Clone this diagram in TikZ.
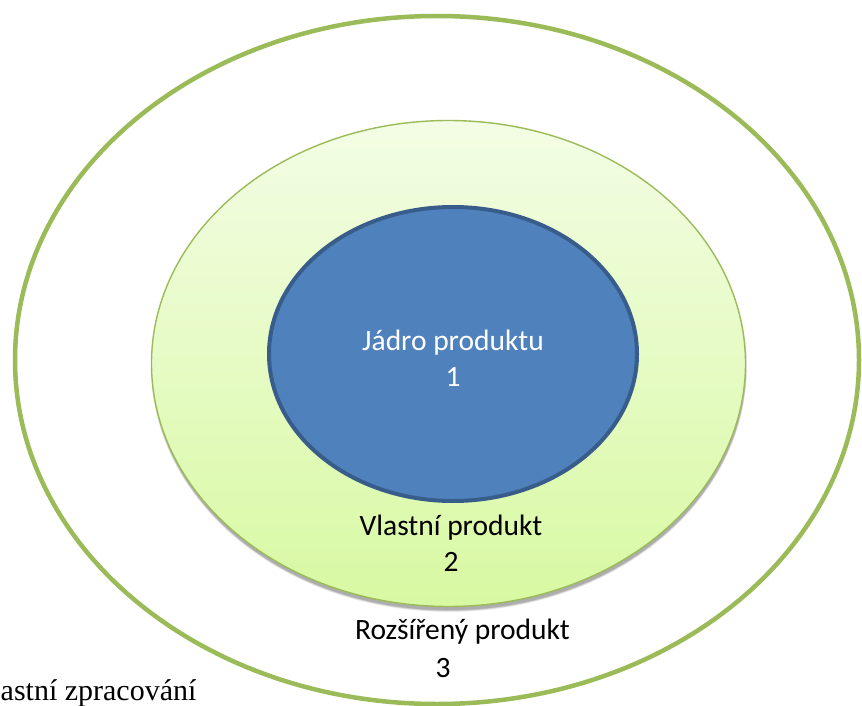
\documentclass[tikz,border=0pt]{standalone}
\usepackage{fontspec}
\setmainfont{Carlito}
\newfontfamily\serifface{Liberation Serif}
\usetikzlibrary{shapes.geometric}
\definecolor{ringgreen}{HTML}{9BBB59}
\definecolor{midtop}{RGB}{243,253,229}
\definecolor{midbot}{RGB}{216,249,162}
\definecolor{coreblue}{HTML}{4F81BD}
\definecolor{coreedge}{HTML}{385D8A}
\tikzset{
  ring/.style={ellipse, inner sep=0pt, outer sep=0pt},
  lbl/.style={font=\fontsize{29.5}{36}\selectfont, align=center, inner sep=0pt},
}
\begin{document}
\begin{tikzpicture}[x=1pt,y=-1pt]
\useasboundingbox (0,0) rectangle (862,706);
\clip (0,0) rectangle (862,706);
\fill[white] (0,0) rectangle (862,706);
% outer ring
\node[ring, draw=ringgreen, line width=4.5pt, minimum width=844pt, minimum height=688pt] (outer) at (437,360) {};
% shadow of middle ellipse
\foreach \s/\o in {5/0.06,4/0.08,3/0.10,2/0.12}{
  \fill[black, opacity=\o] (449,367) ellipse [x radius={296+\s*0.4}, y radius={242+\s*0.6}];
}
% middle ellipse
\node[ring, draw=ringgreen, line width=1.4pt, top color=midtop, bottom color=midbot, minimum width=594pt, minimum height=486pt] (middle) at (448.5,363.5) {};
% core
\node[ring, draw=coreedge, line width=4pt, fill=coreblue, minimum width=368pt, minimum height=294pt] (core) at (453,354) {};
% labels
\node[lbl, text=white] (l1) at (453,358) {Jádro produktu\\1};
\node[lbl, text=black] (l2) at (451,543) {Vlastní produkt\\2};
\node[lbl, text=black] (l3a) at (462.5,632) {Rozšířený produkt};
\node[lbl, text=black] (l3b) at (443,668) {3};
\node[anchor=base west, inner sep=0pt, font=\serifface\fontsize{30}{36}\selectfont] (note) at (0.5,700) {astní zpracování};
\end{tikzpicture}
\end{document}
